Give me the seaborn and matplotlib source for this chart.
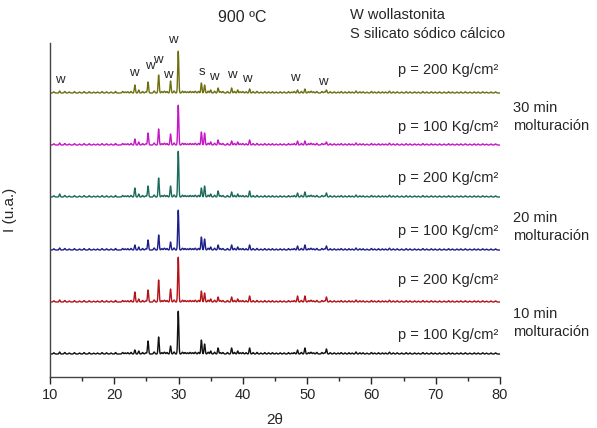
import numpy as np
import pandas as pd
import matplotlib
matplotlib.use("Agg")
import matplotlib.pyplot as plt
import seaborn as sns
from matplotlib.ticker import MultipleLocator

sns.set_theme(style="ticks")
plt.rcParams['font.family'] = ['Liberation Sans', 'DejaVu Sans']

# ---- data ----
series_names = ["10 min, 100", "10 min, 200", "20 min, 100", "20 min, 200", "30 min, 100", "30 min, 200"]
series_colors = ["#111111", "#b3141a", "#1c1f8a", "#1b6a5c", "#c418c4", "#6f6f12"]
offsets = [23, 75, 127, 180, 232, 284]

# main diffraction peaks (2theta) and heights for each series
peak_pos = [11.5, 20.2, 23.2, 23.8, 25.25, 26.9, 28.75, 29.95, 33.55, 34.05, 35.0, 36.15, 38.25, 39.2, 41.05, 48.5, 49.65, 53.0]
h_black   = [2, 1.5, 4, 3, 13, 17, 8, 43, 14, 10, 3, 6, 6, 3, 6, 4, 6, 5]
h_red     = [2, 1.5, 10, 3, 12, 22, 13, 45, 11, 9, 3, 5, 5, 3, 6, 6, 6, 5]
h_blue    = [2, 1.5, 5, 3, 10, 15, 8, 40, 13, 11, 3, 5, 5, 3, 5, 4, 5, 4]
h_teal    = [3, 1.5, 9, 3, 11, 19, 11, 46, 9, 11, 3, 6, 5, 3, 6, 4, 5, 4]
h_magenta = [2, 1.5, 6, 3, 12, 16, 11, 40, 13, 12, 3, 5, 4, 3, 5, 4, 4, 3]
h_olive   = [2, 1.5, 8, 3, 11, 18, 12, 42, 10, 8, 3, 5, 5, 3, 4, 3, 4, 3]
heights = [h_black, h_red, h_blue, h_teal, h_magenta, h_olive]

# small background bumps common to all patterns
minor_pos = [10.6, 12.3, 13.0, 13.8, 14.6, 15.3, 16.1, 16.8, 17.4, 18.1, 18.8, 19.5, 21.3, 21.7, 22.1, 22.6,
             24.4, 24.9, 26.2, 27.4, 27.8, 28.2, 29.3, 30.6, 31.0, 31.4, 31.8, 32.2, 32.6, 33.1, 34.6,
             35.6, 36.5, 36.9, 37.6, 38.7, 39.6, 40.0, 40.5, 41.6, 42.2, 42.8, 43.4, 44.0, 44.6, 45.2,
             45.8, 46.4, 47.1, 47.6, 48.0, 49.1, 50.2, 50.6, 51.0, 51.5, 52.3, 52.7, 53.6, 54.2, 54.8,
             55.3, 55.9, 56.5, 57.0, 57.6, 58.2, 58.7, 59.3, 60.0, 60.5, 61.1, 61.7, 62.2, 62.8, 63.4,
             64.0, 64.7, 65.4, 66.0, 66.7, 67.3, 68.0, 68.6, 69.3, 69.9, 70.6, 71.3, 72.0, 72.6, 73.3,
             73.9, 74.6, 75.3, 76.0, 76.6, 77.3, 77.9, 78.6, 79.3]
minor_h = [1.2, 1.5, 1.0, 1.3, 1.0, 1.4, 1.3, 0.9, 1.0, 1.4, 1.2, 1.0, 1.5, 1.1, 1.3, 1.6,
           1.5, 1.2, 2.0, 1.4, 1.8, 1.5, 2.0, 1.8, 1.5, 1.2, 1.6, 1.3, 1.8, 1.6, 1.8,
           1.8, 1.4, 1.5, 1.5, 1.6, 1.2, 1.5, 1.3, 1.4, 1.6, 1.0, 1.4, 1.2, 1.3, 1.0,
           1.2, 1.1, 1.4, 1.0, 1.5, 1.6, 1.3, 1.8, 1.2, 1.6, 1.5, 1.1, 1.3, 1.2, 1.0,
           1.4, 1.1, 1.3, 1.0, 2.0, 1.2, 1.2, 0.9, 1.5, 1.0, 1.3, 1.1, 1.0, 1.8, 1.1,
           1.2, 1.0, 1.3, 1.1, 1.1, 0.9, 1.4, 1.0, 1.2, 1.0, 1.1, 1.0, 1.3, 1.0, 1.0,
           1.1, 1.2, 0.9, 1.1, 1.0, 1.2, 0.9, 1.0, 1.1]

pressure_labels = ["p = 100 Kg/cm²", "p = 200 Kg/cm²", "p = 100 Kg/cm²", "p = 200 Kg/cm²", "p = 100 Kg/cm²", "p = 200 Kg/cm²"]
pressure_y = [42, 97, 146, 199, 250, 307]
time_labels = ["10 min\nmolturación", "20 min\nmolturación", "30 min\nmolturación"]
time_y = [54, 150, 260]

w_labels = ["w", "w", "w", "w", "w", "w", "s", "w", "w", "w", "w", "w"]
w_x = [11.6, 23.1, 25.6, 26.8, 28.4, 29.1, 33.6, 35.5, 38.3, 40.6, 48.1, 52.5]
w_y = [297, 304, 311, 317, 302, 337, 305, 300, 302, 298, 299, 295]

# ---- build patterns ----
tt = np.linspace(10, 80, 3501)
frames = []
for name, off, hs in zip(series_names, offsets, heights):
    y = np.full_like(tt, float(off))
    for p, h in zip(peak_pos, hs):
        y += h * np.exp(-0.5 * ((tt - p) / 0.085) ** 2)
    for p, h in zip(minor_pos, minor_h):
        y += h * np.exp(-0.5 * ((tt - p) / 0.1) ** 2)
    frames.append(pd.DataFrame({"2theta": tt, "I": y, "serie": name}))
df = pd.concat(frames, ignore_index=True)

fig = plt.figure(figsize=(5.97, 4.28), dpi=100)
ax = fig.add_axes([50 / 597, 1 - 377 / 428, 450 / 597, 334 / 428])

sns.lineplot(data=df, x="2theta", y="I", hue="serie", palette=dict(zip(series_names, series_colors)),
             estimator=None, linewidth=1.0, legend=False, ax=ax)

ax.set_xlim(10, 80)
ax.set_ylim(0, 334)
ax.xaxis.set_major_locator(MultipleLocator(10))
ax.xaxis.set_minor_locator(MultipleLocator(5))
ax.tick_params(axis='x', which='major', direction='out', length=5, width=1, labelsize=10.5, pad=3)
ax.tick_params(axis='x', which='minor', direction='out', length=3, width=1)
ax.set_yticks([])
for s in ["top", "right"]:
    ax.spines[s].set_visible(False)
for s in ["left", "bottom"]:
    ax.spines[s].set_color("#444444")
    ax.spines[s].set_linewidth(1.0)

ax.set_xlabel("2θ", fontsize=11, labelpad=8)
ax.set_ylabel("I (u.a.)", fontsize=11, labelpad=24)

for lab, yy in zip(pressure_labels, pressure_y):
    ax.text(79.8, yy, lab, ha="right", va="center", fontsize=10.5, clip_on=False)
for lab, yy in zip(time_labels, time_y):
    ax.text(82.0, yy, lab, ha="left", va="center", fontsize=10.5, linespacing=1.3, clip_on=False)
for lab, xx, yy in zip(w_labels, w_x, w_y):
    ax.text(xx, yy, lab, ha="center", va="center", fontsize=9.5, clip_on=False)

fig.text(242 / 597, 1 - 18 / 428, "900 ºC", ha="center", va="center", fontsize=11.5)
fig.text(350 / 597, 1 - 15 / 428, "W wollastonita", ha="left", va="center", fontsize=10.5)
fig.text(350 / 597, 1 - 34 / 428, "S silicato sódico cálcico", ha="left", va="center", fontsize=10.5)

fig.savefig("out.png", dpi=100)
